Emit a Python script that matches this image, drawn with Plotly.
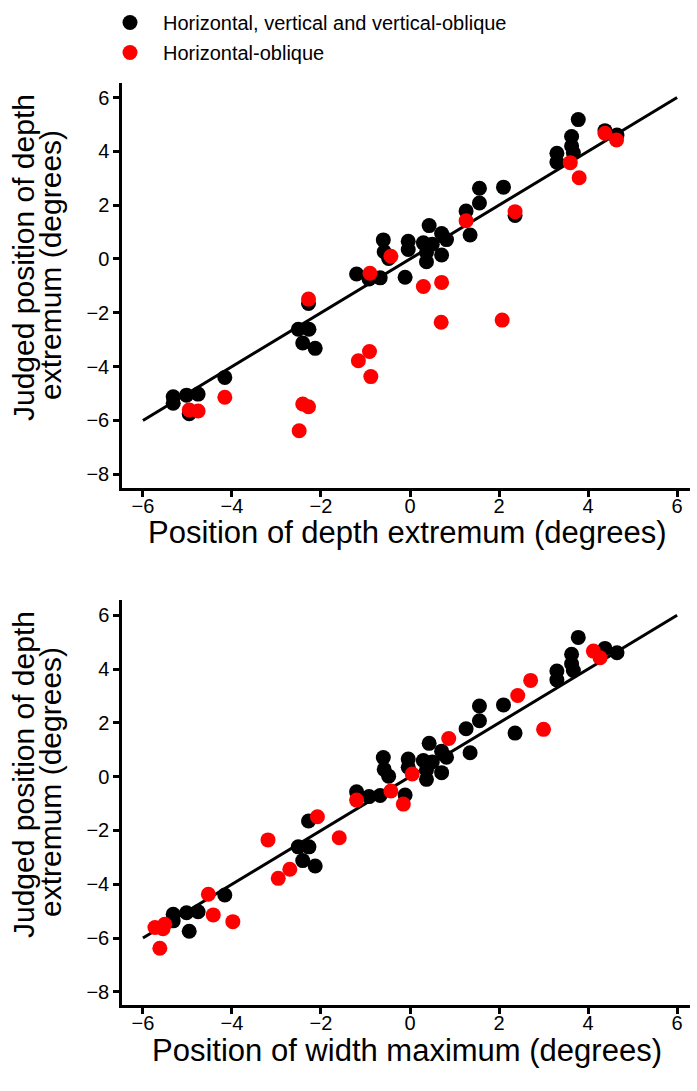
import plotly.graph_objects as go

# ---- data ----
black_judged = [-5.12, -5.36, -5.06, -5.75, -5.02, -4.40, -1.65, -2.61, -2.61, -3.12, -3.32,
                -0.56, -0.74, -0.70, 0.71, 0.27, 0.02, -0.68, 0.66, 0.35, 0.60, 1.24, -0.10,
                0.25, 0.95, 0.72, 0.15, 0.55, 1.78, 0.89, 2.63, 2.08, 2.67, 1.62, 3.93, 3.60,
                4.55, 4.20, 3.95, 5.18, 4.77, 4.61]
black_depth_pos = [-5.32, -5.32, -5.02, -4.96, -4.76, -4.16, -2.28, -2.51, -2.27, -2.41, -2.13,
                   -1.20, -0.92, -0.67, -0.60, -0.58, -0.48, -0.11, -0.04, -0.04, 0.30, 0.43, 0.37,
                   0.37, 0.71, 0.82, 0.71, 0.50, 1.26, 1.35, 1.56, 1.56, 2.10, 2.36, 3.30, 3.30,
                   3.63, 3.63, 3.67, 3.78, 4.38, 4.65]
black_width_pos = [-5.32, -5.32, -5.02, -4.96, -4.76, -4.16, -2.28, -2.51, -2.27, -2.41, -2.13,
                   -1.20, -0.92, -0.67, -0.60, -0.58, -0.48, -0.11, -0.04, -0.04, 0.30, 0.43, 0.37,
                   0.37, 0.71, 0.82, 0.71, 0.50, 1.26, 1.35, 1.56, 1.56, 2.10, 2.36, 3.30, 3.30,
                   3.63, 3.63, 3.67, 3.78, 4.38, 4.65]

red_judged = [-5.61, -5.65, -5.14, -1.49, -5.39, -5.49, -6.38, -3.78, -3.44, -4.37, -0.53,
              0.10, -1.02, -0.87, 1.42, -2.35, -2.27, 1.76, 3.58, 3.02, 4.67, 4.42]
red_depth_pos = [-4.96, -4.76, -4.16, -2.28, -2.41, -2.28, -2.49, -1.16, -0.91, -0.88, -0.90,
                 -0.43, 0.30, 0.71, 1.26, 0.70, 2.07, 2.36, 3.60, 3.80, 4.38, 4.64]
red_width_pos = [-5.73, -5.55, -4.42, -2.08, -3.98, -5.51, -5.62, -2.96, -2.70, -4.53, -0.43,
                 0.05, -0.15, -1.20, 0.87, -3.19, -1.59, 3.00, 2.71, 2.42, 4.12, 4.27]

identity_line = [-6, 6]
x_ticks = [-6, -4, -2, 0, 2, 4, 6]
y_ticks = [-8, -6, -4, -2, 0, 2, 4, 6]

black_name = "Horizontal, vertical and vertical-oblique"
red_name = "Horizontal-oblique"
x_title_top = "Position of depth extremum (degrees)"
x_title_bottom = "Position of width maximum (degrees)"
y_title_lines = ["Judged position of depth", "extremum (degrees)"]

FONT = "Liberation Sans, Arial, Helvetica, sans-serif"
MS = 15

fig = go.Figure()

for xa, ya, bx, rx, show in [("x", "y", black_depth_pos, red_depth_pos, True),
                             ("x2", "y2", black_width_pos, red_width_pos, False)]:
    fig.add_trace(go.Scatter(x=identity_line, y=identity_line, mode="lines",
                             line=dict(color="black", width=3), showlegend=False,
                             xaxis=xa, yaxis=ya, hoverinfo="skip"))
    fig.add_trace(go.Scatter(x=bx, y=black_judged, mode="markers", name=black_name,
                             marker=dict(color="black", size=MS), showlegend=show,
                             legendgroup="a", xaxis=xa, yaxis=ya))
    fig.add_trace(go.Scatter(x=rx, y=red_judged, mode="markers", name=red_name,
                             marker=dict(color="#ff0000", size=MS), showlegend=show,
                             legendgroup="b", xaxis=xa, yaxis=ya))

axis_common = dict(showgrid=False, zeroline=False, showline=True, linecolor="black",
                   linewidth=2.5, ticks="outside", ticklen=6, tickwidth=2.5,
                   tickcolor="black", tickfont=dict(family=FONT, size=20, color="black"),
                   mirror=False, automargin=False)

W_TOT = 697.0
HT = 1091.0
H_TOT = 922.0
top_dom = [(1005 - 488) / H_TOT, 1.0]
bot_dom = [0.0, (1005 - 600) / H_TOT]

fig.update_layout(
    width=697, height=1091,
    margin=dict(l=122, r=7, t=83, b=86, autoexpand=False),
    plot_bgcolor="white", paper_bgcolor="white",
    font=dict(family=FONT, color="black"),
    xaxis=dict(domain=[0, 1], range=[-6.47, 6.29], tickvals=x_ticks, anchor="y",
               ticklabelstandoff=-8, **axis_common),
    yaxis=dict(domain=top_dom, range=[-8.51, 6.54], tickvals=y_ticks, anchor="x", **axis_common),
    xaxis2=dict(domain=[0, 1], range=[-6.47, 6.29], tickvals=x_ticks, anchor="y2",
                ticklabelstandoff=-8, **axis_common),
    yaxis2=dict(domain=bot_dom, range=[-8.49, 6.57], tickvals=y_ticks, anchor="x2", **axis_common),
    legend=dict(xref="container", yref="container", x=97 / W_TOT, xanchor="left",
                y=1 - 3 / HT, yanchor="top",
                font=dict(family=FONT, size=20, color="black"), itemwidth=56,
                tracegroupgap=1, bgcolor="rgba(0,0,0,0)", traceorder="grouped"),
    showlegend=True,
)

def px_to_paper_y(py):
    return (1005 - py) / H_TOT

def px_to_paper_x(px):
    return (px - 122) / 568.0

annos = []
for cy, title in [(532, x_title_top), (1050, x_title_bottom)]:
    annos.append(dict(text=title, x=px_to_paper_x(407), y=px_to_paper_y(cy), xref="paper",
                      yref="paper", showarrow=False, xanchor="center", yanchor="middle",
                      font=dict(family=FONT, size=31, color="black")))
for offset in [0, 517]:
    for lx, ly, line in [(23, 258, y_title_lines[0]), (50, 265, y_title_lines[1])]:
        annos.append(dict(text=line, x=px_to_paper_x(lx), y=px_to_paper_y(ly + offset),
                          xref="paper", yref="paper", showarrow=False, textangle=-90,
                          xanchor="center", yanchor="middle",
                          font=dict(family=FONT, size=30, color="black")))
fig.update_layout(annotations=annos)

fig.write_html("out.html", config={"displayModeBar": False},
               post_script="document.body.style.margin='0';document.body.style.padding='0';")
